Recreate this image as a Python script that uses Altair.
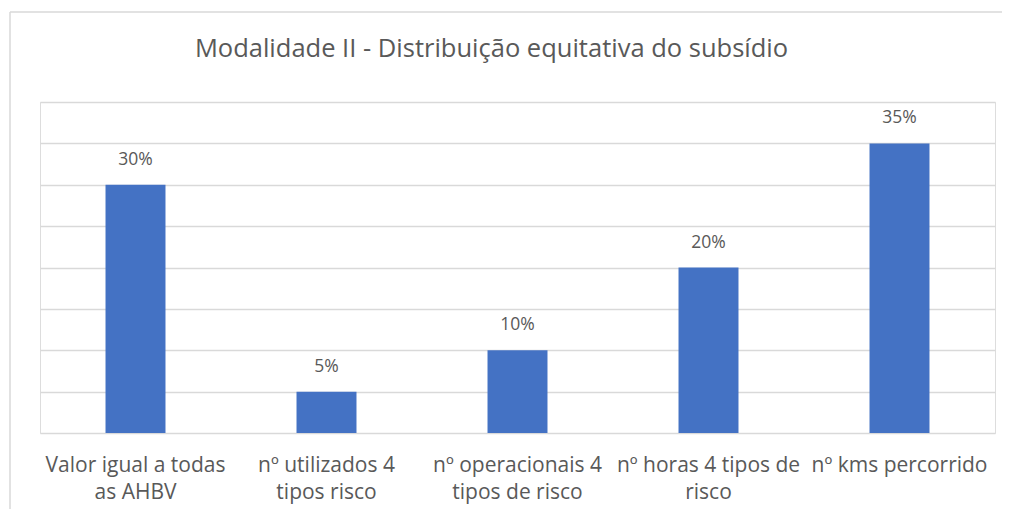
import altair as alt
import pandas as pd

categories = [
    "Valor igual a todas\nas AHBV",
    "nº utilizados 4\ntipos risco",
    "nº operacionais 4\ntipos de risco",
    "nº horas 4 tipos de\nrisco",
    "nº kms percorrido",
]
values = [0.30, 0.05, 0.10, 0.20, 0.35]
grid_values = [0, 0.05, 0.10, 0.15, 0.20, 0.25, 0.30, 0.35, 0.40]

df = pd.DataFrame({"cat": categories, "val": values})

FONT = "Open Sans"
GRAY = "#595959"

x = alt.X(
    "cat:N",
    sort=categories,
    title=None,
    scale=alt.Scale(paddingInner=0.686, paddingOuter=0.343),
    axis=alt.Axis(
        labelExpr="split(datum.label, '\\n')",
        labelAngle=0,
        labelFont=FONT,
        labelFontSize=21,
        labelColor=GRAY,
        labelLimit=300,
        labelLineHeight=27,
        labelPadding=21,
        ticks=False,
        domain=False,
        grid=False,
    ),
)
y = alt.Y(
    "val:Q",
    title=None,
    scale=alt.Scale(domain=[0, 0.4], nice=False),
    axis=alt.Axis(
        values=grid_values,
        labels=False,
        ticks=False,
        domain=False,
        grid=True,
        gridColor="#d9d9d9",
        gridWidth=1.3,
    ),
)

base = alt.Chart(df)
bars = base.mark_bar(color="#4472C4").encode(x=x, y=y)
text = base.mark_text(
    font=FONT, fontSize=17.5, color=GRAY, baseline="middle", dy=-25
).encode(x=x, y=y, text=alt.Text("val:Q", format=".0%"))

frame = pd.DataFrame({"k": [0]})
top_border = alt.Chart(frame).mark_rule(color="#d9d9d9", strokeWidth=1.5).encode(
    x=alt.value(-30), x2=alt.value(1100), y=alt.value(-90)
)
left_border = alt.Chart(frame).mark_rule(color="#d9d9d9", strokeWidth=1.5).encode(
    x=alt.value(-30), y=alt.value(-90), y2=alt.value(600)
)

chart = (
    alt.layer(top_border, left_border, bars, text)
    .properties(
        width=955,
        height=331,
        autosize=alt.AutoSizeParams(type="none"),
        padding={"left": 32, "top": 94, "right": 7, "bottom": 76},
        title=alt.TitleParams(
            "Modalidade II - Distribuição equitativa do subsídio",
            font=FONT,
            fontSize=25.5,
            fontWeight="normal",
            color=GRAY,
            anchor="middle",
            baseline="bottom",
            dx=-26,
            dy=76,
            offset=0,
        ),
    )
    .configure_view(stroke=None)
    .configure(background="white")
)

chart.save("out.html", embed_options={"renderer": "svg", "actions": False})
